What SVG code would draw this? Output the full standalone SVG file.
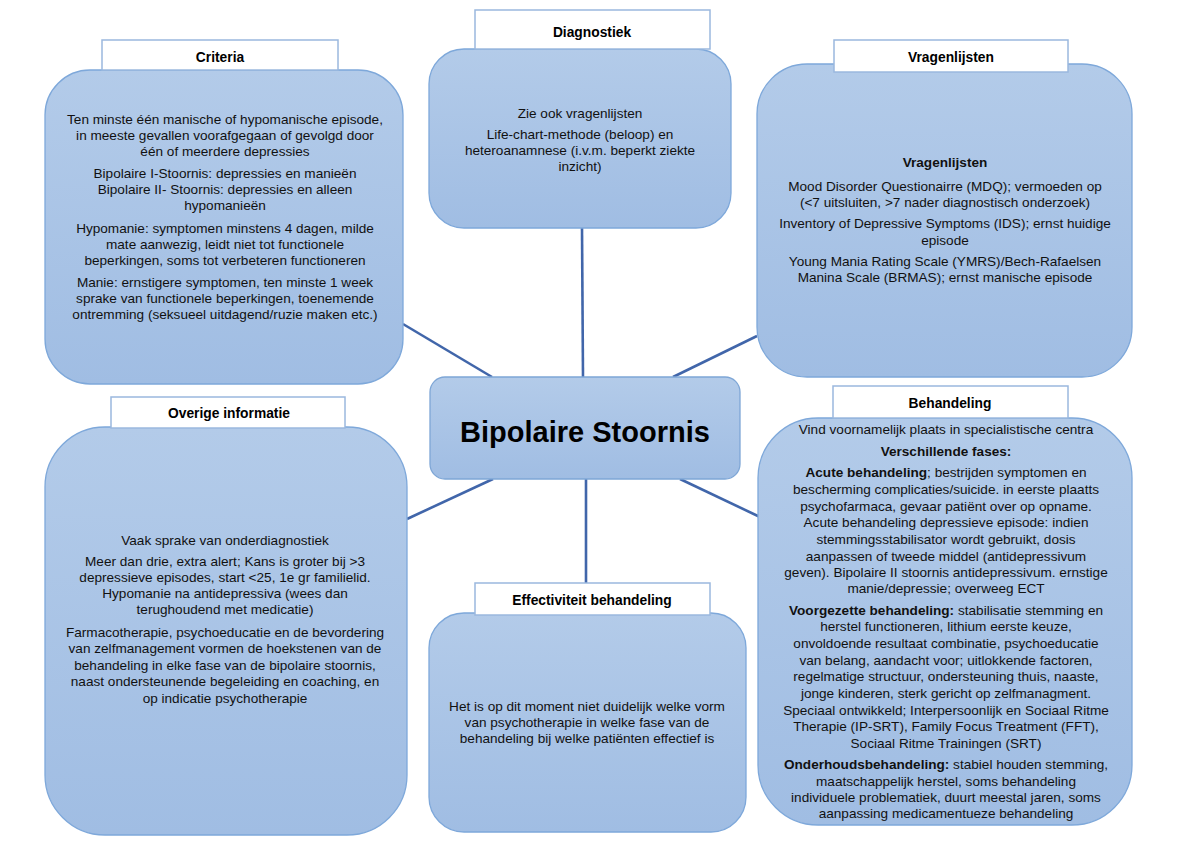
<svg xmlns="http://www.w3.org/2000/svg" width="1200" height="848" viewBox="0 0 1200 848">
<defs>
<linearGradient id="g" x1="0" y1="0" x2="0" y2="1">
<stop offset="0" stop-color="#b3cbe9"/>
<stop offset="1" stop-color="#a0bde3"/>
</linearGradient>
<style>
.box{fill:url(#g);stroke:#7ea8da;stroke-width:1.3}
.lab{fill:#ffffff;stroke:#9bb8de;stroke-width:1.5}
.lt{font-family:"Liberation Sans",Arial,sans-serif;font-size:13.8px;font-weight:bold;fill:#000;text-anchor:middle}
.t{font-family:"Liberation Sans",Arial,sans-serif;font-size:13.6px;fill:#111;text-anchor:middle}
.b{font-weight:bold}
.con line{stroke:#4166aa;stroke-width:2.6}
</style>
</defs>
<rect width="1200" height="848" fill="#ffffff"/>
<g class="con" id="connectors">
<line x1="403" y1="324" x2="492" y2="377"/>
<line x1="582" y1="228" x2="583" y2="377"/>
<line x1="673" y1="377" x2="757" y2="336"/>
<line x1="493" y1="479" x2="407" y2="519"/>
<line x1="586" y1="479" x2="586" y2="583"/>
<line x1="680" y1="479" x2="760" y2="517"/>
</g>
<g id="criteria">
<rect class="box" x="45" y="70" width="358" height="314" rx="45"/>
<rect class="lab" x="102" y="40" width="236" height="30"/>
<text class="lt" x="220" y="62">Criteria</text>
<text class="t" x="225" y="124">Ten minste één manische of hypomanische episode,</text>
<text class="t" x="225" y="140">in meeste gevallen voorafgegaan of gevolgd door</text>
<text class="t" x="225" y="156">één of meerdere depressies</text>
<text class="t" x="225" y="178">Bipolaire I-Stoornis: depressies en manieën</text>
<text class="t" x="225" y="194">Bipolaire II- Stoornis: depressies en alleen</text>
<text class="t" x="225" y="210">hypomanieën</text>
<text class="t" x="225" y="233">Hypomanie: symptomen minstens 4 dagen, milde</text>
<text class="t" x="225" y="249">mate aanwezig, leidt niet tot functionele</text>
<text class="t" x="225" y="265">beperkingen, soms tot verbeteren functioneren</text>
<text class="t" x="225" y="287">Manie: ernstigere symptomen, ten minste 1 week</text>
<text class="t" x="225" y="303">sprake van functionele beperkingen, toenemende</text>
<text class="t" x="225" y="319">ontremming (seksueel uitdagend/ruzie maken etc.)</text>
</g>
<g id="diagnostiek">
<rect class="box" x="429" y="49" width="302" height="179" rx="35"/>
<rect class="lab" x="475" y="10" width="235" height="39"/>
<text class="lt" x="592" y="37">Diagnostiek</text>
<text class="t" x="580" y="118">Zie ook vragenlijsten</text>
<text class="t" x="580" y="139">Life-chart-methode (beloop) en</text>
<text class="t" x="580" y="155">heteroanamnese (i.v.m. beperkt ziekte</text>
<text class="t" x="580" y="171">inzicht)</text>
</g>
<g id="vragenlijsten">
<rect class="box" x="757" y="64" width="375" height="313" rx="50"/>
<rect class="lab" x="834" y="40" width="234" height="32"/>
<text class="lt" x="951" y="62">Vragenlijsten</text>
<text class="t b" x="945" y="167">Vragenlijsten</text>
<text class="t" x="945" y="191">Mood Disorder Questionairre (MDQ); vermoeden op</text>
<text class="t" x="945" y="207">(&lt;7 uitsluiten, &gt;7 nader diagnostisch onderzoek)</text>
<text class="t" x="945" y="228">Inventory of Depressive Symptoms (IDS); ernst huidige</text>
<text class="t" x="945" y="245">episode</text>
<text class="t" x="945" y="266">Young Mania Rating Scale (YMRS)/Bech-Rafaelsen</text>
<text class="t" x="945" y="282">Manina Scale (BRMAS); ernst manische episode</text>
</g>
<g id="overige">
<rect class="box" x="45" y="427" width="362" height="408" rx="60"/>
<rect class="lab" x="111" y="397" width="234" height="31"/>
<text class="lt" x="229" y="418">Overige informatie</text>
<text class="t" x="225" y="545">Vaak sprake van onderdiagnostiek</text>
<text class="t" x="225" y="566">Meer dan drie, extra alert; Kans is groter bij &gt;3</text>
<text class="t" x="225" y="582">depressieve episodes, start &lt;25, 1e gr familielid.</text>
<text class="t" x="225" y="598">Hypomanie na antidepressiva (wees dan</text>
<text class="t" x="225" y="614">terughoudend met medicatie)</text>
<text class="t" x="225" y="637">Farmacotherapie, psychoeducatie en de bevordering</text>
<text class="t" x="225" y="653">van zelfmanagement vormen de hoekstenen van de</text>
<text class="t" x="225" y="670">behandeling in elke fase van de bipolaire stoornis,</text>
<text class="t" x="225" y="686">naast ondersteunende begeleiding en coaching, en</text>
<text class="t" x="225" y="703">op indicatie psychotherapie</text>
</g>
<g id="center">
<rect class="box" x="430" y="377" width="310" height="102" rx="15" style="stroke:#7ea6d6"/>
<text x="585" y="442" style="font-family:'Liberation Sans',Arial,sans-serif;font-size:29px;font-weight:bold;fill:#000;text-anchor:middle">Bipolaire Stoornis</text>
</g>
<g id="effectiviteit">
<rect class="box" x="429" y="613" width="317" height="219" rx="35"/>
<rect class="lab" x="475" y="583" width="235" height="32"/>
<text class="lt" x="592" y="605">Effectiviteit behandeling</text>
<text class="t" x="587" y="711">Het is op dit moment niet duidelijk welke vorm</text>
<text class="t" x="587" y="727">van psychotherapie in welke fase van de</text>
<text class="t" x="587" y="743">behandeling bij welke patiënten effectief is</text>
</g>
<g id="behandeling">
<rect class="box" x="758" y="418" width="374" height="407" rx="60"/>
<rect class="lab" x="833" y="386" width="235" height="32"/>
<text class="lt" x="950" y="408">Behandeling</text>
<text class="t" x="946" y="434">Vind voornamelijk plaats in specialistische centra</text>
<text class="t b" x="946" y="456">Verschillende fases:</text>
<text class="t" x="946" y="477"><tspan class="b">Acute behandeling</tspan>; bestrijden symptomen en</text>
<text class="t" x="946" y="494">bescherming complicaties/suicide. in eerste plaatts</text>
<text class="t" x="946" y="511">psychofarmaca, gevaar patiënt over op opname.</text>
<text class="t" x="946" y="527">Acute behandeling depressieve episode: indien</text>
<text class="t" x="946" y="544">stemmingsstabilisator wordt gebruikt, dosis</text>
<text class="t" x="946" y="561">aanpassen of tweede middel (antidepressivum</text>
<text class="t" x="946" y="577">geven). Bipolaire II stoornis antidepressivum. ernstige</text>
<text class="t" x="946" y="593">manie/depressie; overweeg ECT</text>
<text class="t" x="946" y="615"><tspan class="b">Voorgezette behandeling:</tspan> stabilisatie stemming en</text>
<text class="t" x="946" y="631">herstel functioneren, lithium eerste keuze,</text>
<text class="t" x="946" y="648">onvoldoende resultaat combinatie, psychoeducatie</text>
<text class="t" x="946" y="665">van belang, aandacht voor; uitlokkende factoren,</text>
<text class="t" x="946" y="681">regelmatige structuur, ondersteuning thuis, naaste,</text>
<text class="t" x="946" y="698">jonge kinderen, sterk gericht op zelfmanagment.</text>
<text class="t" x="946" y="715">Speciaal ontwikkeld; Interpersoonlijk en Sociaal Ritme</text>
<text class="t" x="946" y="731">Therapie (IP-SRT), Family Focus Treatment (FFT),</text>
<text class="t" x="946" y="748">Sociaal Ritme Trainingen (SRT)</text>
<text class="t" x="946" y="769"><tspan class="b">Onderhoudsbehandeling:</tspan> stabiel houden stemming,</text>
<text class="t" x="946" y="786">maatschappelijk herstel, soms behandeling</text>
<text class="t" x="946" y="802">individuele problematiek, duurt meestal jaren, soms</text>
<text class="t" x="946" y="818">aanpassing medicamentueze behandeling</text>
</g>
</svg>
